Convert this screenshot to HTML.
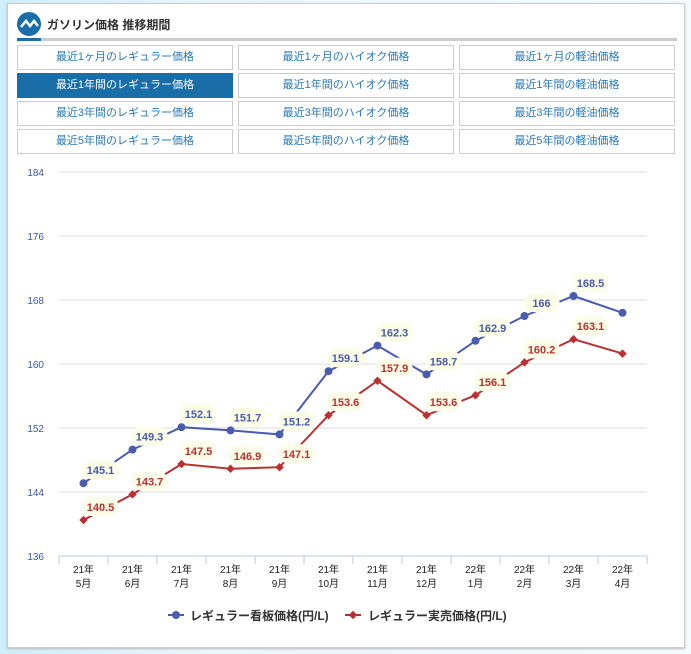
<!DOCTYPE html><html><head><meta charset="utf-8"><style>
body{margin:0;width:691px;height:654px;background:linear-gradient(90deg,#cdeefc,#eaf7fd 30%,#f4fbfe);font-family:"Liberation Sans","Noto Sans CJK JP",sans-serif;position:relative;overflow:hidden}
.card{position:absolute;left:7px;top:3px;width:676px;height:643px;background:#fff;border:1px solid #ccc;box-shadow:0 1px 2px #bbb}
.title{position:absolute;left:17px;top:8px;width:660px;height:30px;border-bottom:3px solid #ccc}
.title .bar{position:absolute;left:0;bottom:-3px;width:24px;height:3px;background:#1a6ea8}
.title span{position:absolute;left:30px;top:8px;font-size:12px;font-weight:bold;color:#333}
.btn{position:absolute;width:214px;height:23px;border:1px solid #ccc;background:#fff;color:#2a7ab8;font-size:11px;text-align:center;line-height:23px}
.btn.on{background:#1a6ea8;color:#fff;border-color:#1a6ea8}
</style></head><body>
<div class="card"></div>
<div class="title"><div class="bar"></div>
<svg style="position:absolute;left:0;top:4px" width="24" height="24"><circle cx="12" cy="12" r="12" fill="#1a6ea8"/><path d="M4 15 L9 9 L13 14 L17 9 L21 14" stroke="#fff" stroke-width="2.5" fill="none"/></svg>
<span>ガソリン価格 推移期間</span></div>
<div id="btns"></div>
<svg id="chart" width="691" height="654" style="position:absolute;left:0;top:0"></svg>
<script>
const periods=["最近1ヶ月の","最近1年間の","最近3年間の","最近5年間の"];
const kinds=["レギュラー価格","ハイオク価格","軽油価格"];
const B=document.getElementById('btns');
periods.forEach((p,r)=>kinds.forEach((k,c)=>{const d=document.createElement('div');d.className='btn'+(r==1&&c==0?' on':'');d.style.left=(17+c*221)+'px';d.style.top=(45+r*28)+'px';d.textContent=p+k;


B.appendChild(d);}));
</script>
<script>
const categories=["21年|5月","21年|6月","21年|7月","21年|8月","21年|9月","21年|10月","21年|11月","21年|12月","22年|1月","22年|2月","22年|3月","22年|4月"];
const signboard=[145.1,149.3,152.1,151.7,151.2,159.1,162.3,158.7,162.9,166,168.5,166.4];
const actual=[140.5,143.7,147.5,146.9,147.1,153.6,157.9,153.6,156.1,160.2,163.1,161.3];
const yTicks=[136,144,152,160,168,176,184];
const S=document.getElementById('chart'),NS='http://www.w3.org/2000/svg';
const x0=59,x1=647,y0=556,y1=172,ymin=136,ymax=184;
const bw=(x1-x0)/categories.length;
const X=i=>x0+bw*(i+0.5),Y=v=>y0-(v-ymin)/(ymax-ymin)*(y0-y1);
function el(t,a,txt){const e=document.createElementNS(NS,t);for(const k in a)e.setAttribute(k,a[k]);if(txt!=null)e.textContent=txt;S.appendChild(e);return e;}
yTicks.forEach(v=>{const g=el('line',{x1:x0,x2:x1,y1:Y(v),y2:Y(v),stroke:v==ymin?'#b8c8e0':'#ddd'});
const t=el('text',{x:44,y:Y(v)+4,'font-size':10,fill:'#3d55a8','text-anchor':'end'},v);});
categories.forEach((c,i)=>{const tk=el('line',{x1:x0+bw*i,x2:x0+bw*i,y1:y0,y2:y0+8,stroke:'#b8c8e0'});
const [a,b]=c.split('|');const t=el('text',{x:X(i),y:y0+17,'font-size':10,fill:'#222','text-anchor':'middle'});
const s1=document.createElementNS(NS,'tspan');s1.setAttribute('x',X(i));s1.textContent=a;t.appendChild(s1);const s2=document.createElementNS(NS,'tspan');s2.setAttribute('x',X(i));s2.setAttribute('dy',14);s2.textContent=b;t.appendChild(s2);});
el('line',{x1:x1,x2:x1,y1:y0,y2:y0+8,stroke:'#b8c8e0'});
function series(d,col,name,diamond){
 const p=el('polyline',{points:d.map((v,i)=>X(i)+','+Y(v)).join(' '),fill:'none',stroke:col,'stroke-width':2});
 d.forEach((v,i)=>{let m;if(diamond)m=el('rect',{x:X(i)-3,y:Y(v)-3,width:6,height:6,fill:col,transform:`rotate(45 ${X(i)} ${Y(v)})`});else m=el('circle',{cx:X(i),cy:Y(v),r:4,fill:col});
 
 if(i<d.length-1){const lx=X(i)+17,ly=Y(v)-12;const r=el('rect',{x:lx-18,y:ly-11,width:36,height:19,rx:9,fill:'#fbfde6'});
 const t=el('text',{x:lx,y:ly+3,'font-size':11,'font-weight':'bold',fill:col,'text-anchor':'middle'},v);}});
}
series(signboard,'#4a5cae','signboard',false);
series(actual,'#b83232','actual',true);
const l1=el('line',{x1:168,x2:184,y1:615,y2:615,stroke:'#4a5cae','stroke-width':2});
el('circle',{cx:176,cy:615,r:4,fill:'#4a5cae'});
const t1=el('text',{x:190,y:620,'font-size':12,'font-weight':'bold',fill:'#333'},'レギュラー看板価格(円/L)');
const l2=el('line',{x1:345,x2:361,y1:615,y2:615,stroke:'#b83232','stroke-width':2});
el('rect',{x:350,y:612,width:6,height:6,fill:'#b83232',transform:'rotate(45 353 615)'});
const t2=el('text',{x:368,y:620,'font-size':12,'font-weight':'bold',fill:'#333'},'レギュラー実売価格(円/L)');
</script></body></html>
